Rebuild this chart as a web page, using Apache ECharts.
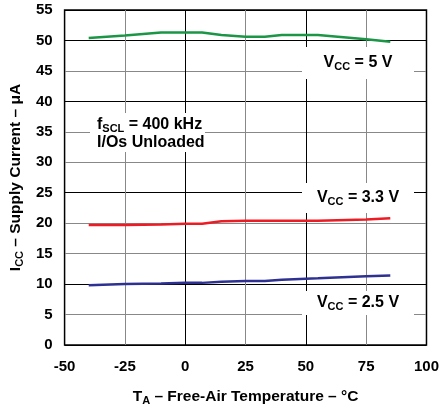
<!DOCTYPE html>
<html><head><meta charset="utf-8">
<script src="https://cdn.jsdelivr.net/npm/echarts@6/dist/echarts.min.js"></script>
<style>html,body{margin:0;padding:0;background:#fff}#c{width:442px;height:411px}</style>
</head><body><div id="c"></div>
<script>
const temps = [-40, -25, -10, 0, 7, 15, 25, 33, 40, 55, 75, 85];
const icc5V = [50.4, 50.8, 51.3, 51.3, 51.3, 50.9, 50.6, 50.6, 50.9, 50.9, 50.2, 49.8];
const icc3V3 = [19.7, 19.7, 19.8, 19.9, 19.9, 20.3, 20.4, 20.4, 20.4, 20.4, 20.6, 20.8];
const icc2V5 = [9.8, 10.0, 10.1, 10.2, 10.2, 10.4, 10.5, 10.5, 10.7, 10.95, 11.3, 11.4];
const xTicks = [-50, -25, 0, 25, 50, 75, 100];
const yTicks = [0, 5, 10, 15, 20, 25, 30, 35, 40, 45, 50, 55];

const pair = v => temps.map((t, i) => [t, v[i]]);
const F = 'Liberation Sans, Arial, sans-serif';
const rich = {
  a: {fontFamily: F, fontWeight: 'bold', fontSize: 16, color: '#000'},
  s: {fontFamily: F, fontWeight: 'bold', fontSize: 11, color: '#000', verticalAlign: 'bottom', padding: [7, 0, 0, 0]}
};
const richT = {
  a: {fontFamily: F, fontWeight: 'bold', fontSize: 15.5, color: '#000'},
  s: {fontFamily: F, fontWeight: 'bold', fontSize: 11, color: '#000', verticalAlign: 'bottom', padding: [7, 0, 0, 0]}
};
function label(cx, cy, w, h, txt) {
  return {
    type: 'group', left: cx - w / 2, top: cy - h / 2, z: 100,
    children: [
      {type: 'rect', z: 100, shape: {x: 0, y: 0, width: w, height: h}, style: {fill: '#fff'}},
      {type: 'text', z: 101, x: w / 2, y: h / 2, style: {text: txt, rich: rich, align: 'center', verticalAlign: 'middle'}}
    ]
  };
}
const chart = echarts.init(document.getElementById('c'), null, {renderer: 'canvas'});
chart.setOption({
  animation: false,
  backgroundColor: '#fff',
  grid: {left: 60, right: 14, top: 10, bottom: 66, show: true, borderColor: '#000', borderWidth: 1.5, containLabel: false},
  xAxis: {
    type: 'value', min: xTicks[0], max: xTicks[xTicks.length - 1], interval: 25,
    axisLine: {show: false}, axisTick: {show: false},
    axisLabel: {margin: 14, fontFamily: F, fontWeight: 'bold', fontSize: 15, color: '#000'},
    splitLine: {show: true, lineStyle: {color: ['#000', '#888'], width: 1}},
    name: '{a|T}{s|A}{a| – Free-Air Temperature – °C}', nameLocation: 'middle', nameGap: 43,
    nameTextStyle: {rich: richT}
  },
  yAxis: {
    type: 'value', min: yTicks[0], max: yTicks[yTicks.length - 1], interval: 5,
    axisLine: {show: false}, axisTick: {show: false},
    axisLabel: {margin: 12, fontFamily: F, fontWeight: 'bold', fontSize: 15, color: '#000'},
    splitLine: {show: true, lineStyle: {color: ['#000', '#888', '#000', '#888', '#888', '#000', '#888', '#888', '#000', '#888', '#000', '#000'], width: 1}},
    name: '{a|I}{s|CC}{a| – Supply Current – μA}', nameLocation: 'middle', nameGap: 33, nameRotate: 90,
    nameTextStyle: {rich: richT}
  },
  series: [
    {type: 'line', data: pair(icc5V), symbol: 'none', lineStyle: {color: '#1b9646', width: 2.5}},
    {type: 'line', data: pair(icc3V3), symbol: 'none', lineStyle: {color: '#ed1c24', width: 2.5}},
    {type: 'line', data: pair(icc2V5), symbol: 'none', lineStyle: {color: '#2e3192', width: 2.5}}
  ],
  graphic: [
    label(358, 63, 112, 32, '{a|V}{s|CC}{a| = 5 V}'),
    label(358, 198, 112, 30, '{a|V}{s|CC}{a| = 3.3 V}'),
    label(358, 303, 112, 24, '{a|V}{s|CC}{a| = 2.5 V}'),
    {
      type: 'group', left: 90, top: 113, z: 100,
      children: [
        {type: 'rect', z: 100, shape: {x: 0, y: 0, width: 115, height: 39}, style: {fill: '#fff'}},
        {type: 'text', z: 101, x: 7, y: 12, style: {text: '{a|f}{s|SCL}{a| = 400 kHz}', rich: rich, align: 'left', verticalAlign: 'middle'}},
        {type: 'text', z: 101, x: 7, y: 30, style: {text: '{a|I/Os Unloaded}', rich: rich, align: 'left', verticalAlign: 'middle'}}
      ]
    }
  ]
});
</script></body></html>
